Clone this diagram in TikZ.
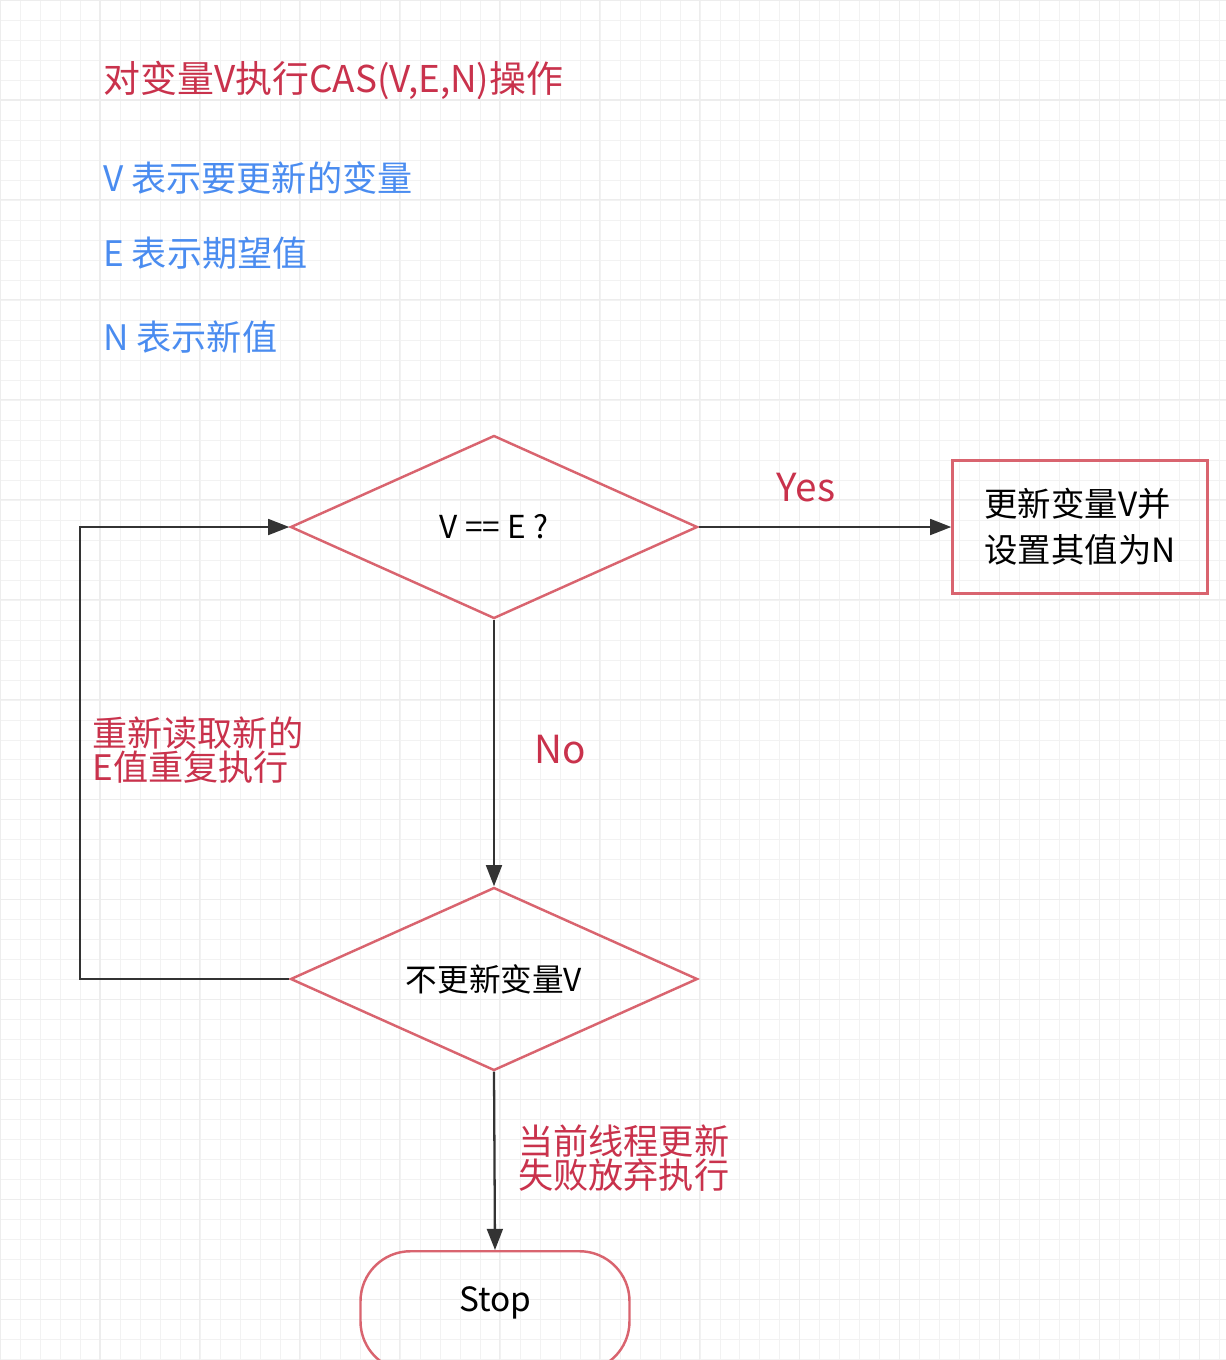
\documentclass[tikz,border=0pt]{standalone}
\usepackage{fontspec}
\setmainfont{Noto Sans CJK SC}
\usetikzlibrary{shapes.geometric,arrows.meta}
\definecolor{cred}{HTML}{C9324C}
\definecolor{cblue}{HTML}{4A8CF0}
\definecolor{cbord}{HTML}{D9646F}
\tikzset{
  dia/.style={diamond,draw=cbord,line width=1.4pt,minimum width=407*0.02cm,minimum height=183*0.02cm,inner sep=0pt,aspect=2.2,font=\fontsize{18}{20}\selectfont},
  conn/.style={draw=black!80,line width=1.3pt,-{Triangle[length=12pt,width=9pt]}},
  lbl/.style={text=cred,font=\fontsize{20}{19}\selectfont,align=left,inner sep=0pt},
  blu/.style={text=cblue,font=\fontsize{20}{20}\selectfont,anchor=west,inner sep=0pt}
}
\begin{document}
\begin{tikzpicture}[x=0.02cm,y=-0.02cm]
\useasboundingbox (0,0) rectangle (1226,1360);
\fill[white] (0,0) rectangle (1226,1360);
\draw[black!5,line width=0.4pt,step=0.4cm] (0,-27.2) grid (1226.1,1360);
\draw[black!7,line width=0.6pt,step=2cm] (0,-27.2) grid (1226.1,1360);
\node[lbl,anchor=west,font=\fontsize{21}{20}\selectfont] (title) at (103,80) {对变量V执行CAS(V,E,N)操作};
\node[blu] (t1) at (103,178) {V 表示要更新的变量};
\node[blu] (t2) at (103,253) {E 表示期望值};
\node[blu] (t3) at (103,337) {N 表示新值};
\node[dia] (d1) at (494,527) {V == E ?};
\node[dia] (d2) at (494,979) {不更新变量V};
\node[draw=cbord,line width=1.4pt,minimum width=255*0.02cm,minimum height=133*0.02cm,align=left,font=\fontsize{19}{26}\selectfont] (box) at (1080,527) {更新变量V并\\设置其值为N};
\node[draw=cbord,line width=1.4pt,rounded corners=1cm,minimum width=269*0.02cm,minimum height=120*0.02cm,anchor=north] (stop) at (495,1250) {};
\node[font=\fontsize{19}{20}\selectfont] (stoptxt) at (495,1303) {Stop};
\coordinate (c1) at (80,979);
\coordinate (c2) at (80,527);
\draw[conn] (d1.east) -- (box.west);
\draw[conn] (d1.south) -- (d2.north);
\draw[conn] (d2.west) -- (c1) -- (c2) -- (d1.west);
\draw[conn] (d2.south) -- (stop.north);
\node[lbl,font=\fontsize{22}{22}\selectfont] (yes) at (806,488) {Yes};
\node[lbl,font=\fontsize{22}{22}\selectfont] (no) at (560,750) {No};
\node[lbl,anchor=west] (l1) at (92,750) {重新读取新的\\E值重复执行};
\node[lbl,anchor=west] (l2) at (518,1158) {当前线程更新\\失败放弃执行};
\end{tikzpicture}
\end{document}
